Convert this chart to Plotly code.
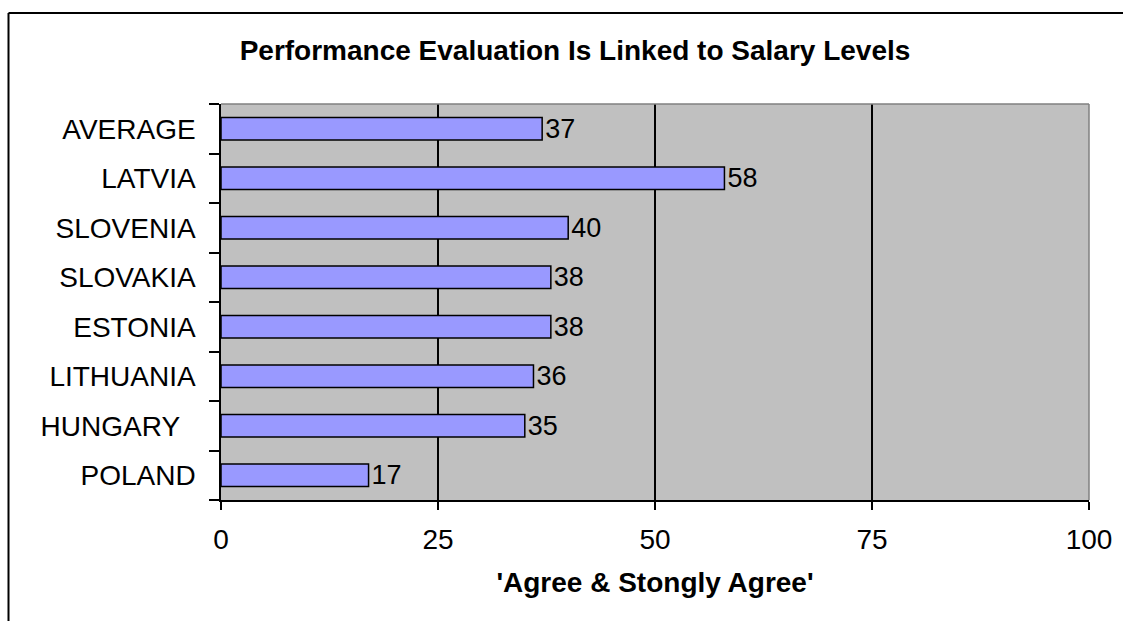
import plotly.graph_objects as go

categories = ["AVERAGE", "LATVIA", "SLOVENIA", "SLOVAKIA", "ESTONIA", "LITHUANIA", "HUNGARY\u00a0\u00a0", "POLAND"]
values = [37, 58, 40, 38, 38, 36, 35, 17]
x_ticks = [0, 25, 50, 75, 100]

W, H = 1123, 621
L, R, T, B = 221, 34, 104, 121
pw, ph = W - L - R, H - T - B

def px2paper_x(px):
    return (px - L) / pw

def py2paper_y(py):
    return (H - B - py) / ph

FONT = "Liberation Sans, Arial"

fig = go.Figure(go.Bar(
    x=values, y=categories, orientation="h",
    marker=dict(color="#9999FF", line=dict(color="black", width=1.5)),
    width=0.45,
    text=[str(v) for v in values], textposition="outside",
    constraintext="none",
    textfont=dict(size=27, color="black", family=FONT),
    cliponaxis=False,
))

fig.update_layout(
    width=W, height=H,
    margin=dict(l=L, r=R, t=T, b=B, pad=0),
    paper_bgcolor="white", plot_bgcolor="#C0C0C0",
    font=dict(family=FONT, size=27, color="black"),
    showlegend=False,
    title=dict(text="<b>Performance Evaluation Is Linked to Salary Levels</b>",
               x=px2paper_x(575), xref="paper", xanchor="center",
               y=(H - 50) / H, yanchor="middle", yref="container",
               font=dict(size=28)),
    xaxis=dict(range=[0, 100], tickvals=x_ticks, ticktext=[str(t) for t in x_ticks],
               showgrid=True, gridcolor="black", gridwidth=1.5,
               ticks="outside", ticklen=8, tickcolor="black", tickwidth=1.5,
               showline=True, linecolor="black", linewidth=1.5,
               zeroline=False, fixedrange=True, ticklabelstandoff=6,
               title=dict(text="<b>'Agree & Stongly Agree'</b>", font=dict(size=28), standoff=18),
               tickfont=dict(size=28)),
    yaxis=dict(categoryorder="array", categoryarray=categories[::-1],
               tickson="boundaries", ticks="outside", ticklen=10, tickcolor="black", tickwidth=1.5,
               showline=True, linecolor="black", linewidth=1.5,
               showgrid=False, zeroline=False, fixedrange=True,
               ticklabelstandoff=18,
               tickfont=dict(size=28)),
    bargap=0.55,
)

# plot area top/right gray border
fig.add_shape(type="line", xref="paper", yref="paper", x0=0, x1=1, y0=1, y1=1,
              line=dict(color="#808080", width=1.5))
fig.add_shape(type="line", xref="paper", yref="paper", x0=1, x1=1, y0=0, y1=1,
              line=dict(color="#808080", width=1.5))
# outer chart frame (left and top visible)
fig.add_shape(type="line", xref="paper", yref="paper",
              x0=px2paper_x(8.5), x1=px2paper_x(1130), y0=py2paper_y(13), y1=py2paper_y(13),
              line=dict(color="black", width=2))
fig.add_shape(type="line", xref="paper", yref="paper",
              x0=px2paper_x(8.5), x1=px2paper_x(8.5), y0=py2paper_y(13), y1=py2paper_y(630),
              line=dict(color="black", width=2))

fig.write_html("out.html", config={"displayModeBar": False},
               post_script="document.body.style.margin='0';document.body.style.overflow='hidden';")
